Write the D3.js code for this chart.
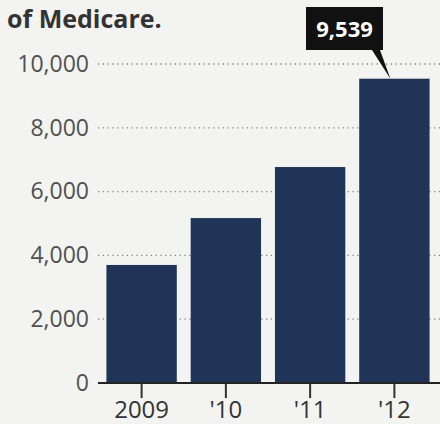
<!DOCTYPE html>
<html>
<head>
<meta charset="utf-8">
<script src="https://cdn.jsdelivr.net/npm/d3@7"></script>
<style>
  body { margin: 0; background: #f3f3f1; }
  svg { display: block; font-family: "Open Sans", "Noto Sans", sans-serif; }
</style>
</head>
<body>
<div id="chart"></div>
<script>
// data
var years = ["2009", "'10", "'11", "'12"];
var values = [3700, 5170, 6770, 9539];
var yTicks = [0, 2000, 4000, 6000, 8000, 10000];

var W = 440, H = 424;
var margin = {top: 64, right: 0, bottom: 41, left: 98};
var width = W - margin.left - margin.right,
    height = H - margin.top - margin.bottom;

var svg = d3.select("#chart")
  .append("svg")
    .attr("width", W)
    .attr("height", H);

// title fragment
svg.append("text")
  .attr("x", 7)
  .attr("y", 28)
  .style("font-size", "25px")
  .style("font-weight", "700")
  .attr("fill", "#333")
  .text("of Medicare.");

var g = svg.append("g")
  .attr("transform", "translate(" + margin.left + "," + margin.top + ")");

var x = d3.scaleBand()
  .domain(years)
  .range([0, 340])
  .paddingInner(0.165)
  .paddingOuter(0.1);

var y = d3.scaleLinear()
  .domain([0, 10000])
  .range([height, 0]);

// dotted gridlines
g.selectAll(".grid")
  .data(yTicks.filter(function(d) { return d > 0; }))
  .enter().append("line")
    .attr("x1", 0)
    .attr("x2", width)
    .attr("y1", function(d) { return y(d); })
    .attr("y2", function(d) { return y(d); })
    .attr("stroke", "#888")
    .attr("stroke-width", 1.3)
    .attr("stroke-dasharray", "1.3,3.5");

// y labels
var yAxis = g.append("g")
  .call(d3.axisLeft(y).tickValues(yTicks).tickSize(0).tickPadding(9)
    .tickFormat(d3.format(",")));
yAxis.select(".domain").remove();
yAxis.selectAll("text")
  .attr("fill", "#505050")
  .style("font-size", "23px")
  .style("font-family", "'Open Sans', sans-serif");

// bars
g.selectAll(".bar")
  .data(values)
  .enter().append("rect")
    .attr("x", function(d, i) { return x(years[i]); })
    .attr("y", function(d) { return y(d); })
    .attr("width", x.bandwidth())
    .attr("height", function(d) { return height - y(d); })
    .attr("fill", "#1f3457");

// x axis
var xAxis = g.append("g")
  .attr("transform", "translate(0," + height + ")")
  .call(d3.axisBottom(x).tickSize(15).tickPadding(3));
xAxis.select(".domain")
  .attr("d", "M0,0H" + width)
  .attr("stroke", "#222")
  .attr("stroke-width", 2.2);
xAxis.selectAll(".tick line")
  .attr("stroke", "#333")
  .attr("stroke-width", 2);
xAxis.selectAll("text")
  .attr("fill", "#333")
  .style("font-size", "24px")
  .style("font-family", "'Open Sans', sans-serif");

// callout for last bar
var last = values.length - 1;
var bx = x(years[last]) + x.bandwidth() / 2;
var by = y(values[last]);
var boxW = 77, boxH = 43, boxX = 306, boxY = 7;
svg.append("path")
  .attr("d", "M" + (boxX + boxW - 11) + "," + (boxY + boxH) +
             "L" + (margin.left + bx - 4) + "," + (margin.top + by) +
             "L" + (boxX + boxW - 3) + "," + (boxY + boxH) + "Z")
  .attr("fill", "#111");
svg.append("rect")
  .attr("x", boxX)
  .attr("y", boxY)
  .attr("width", boxW)
  .attr("height", boxH)
  .attr("fill", "#111");
svg.append("text")
  .attr("x", boxX + boxW / 2)
  .attr("y", boxY + 30)
  .attr("text-anchor", "middle")
  .attr("fill", "#fff")
  .style("font-size", "22px")
  .style("font-weight", "700")
  .text(d3.format(",")(values[last]));
</script>
</body>
</html>
